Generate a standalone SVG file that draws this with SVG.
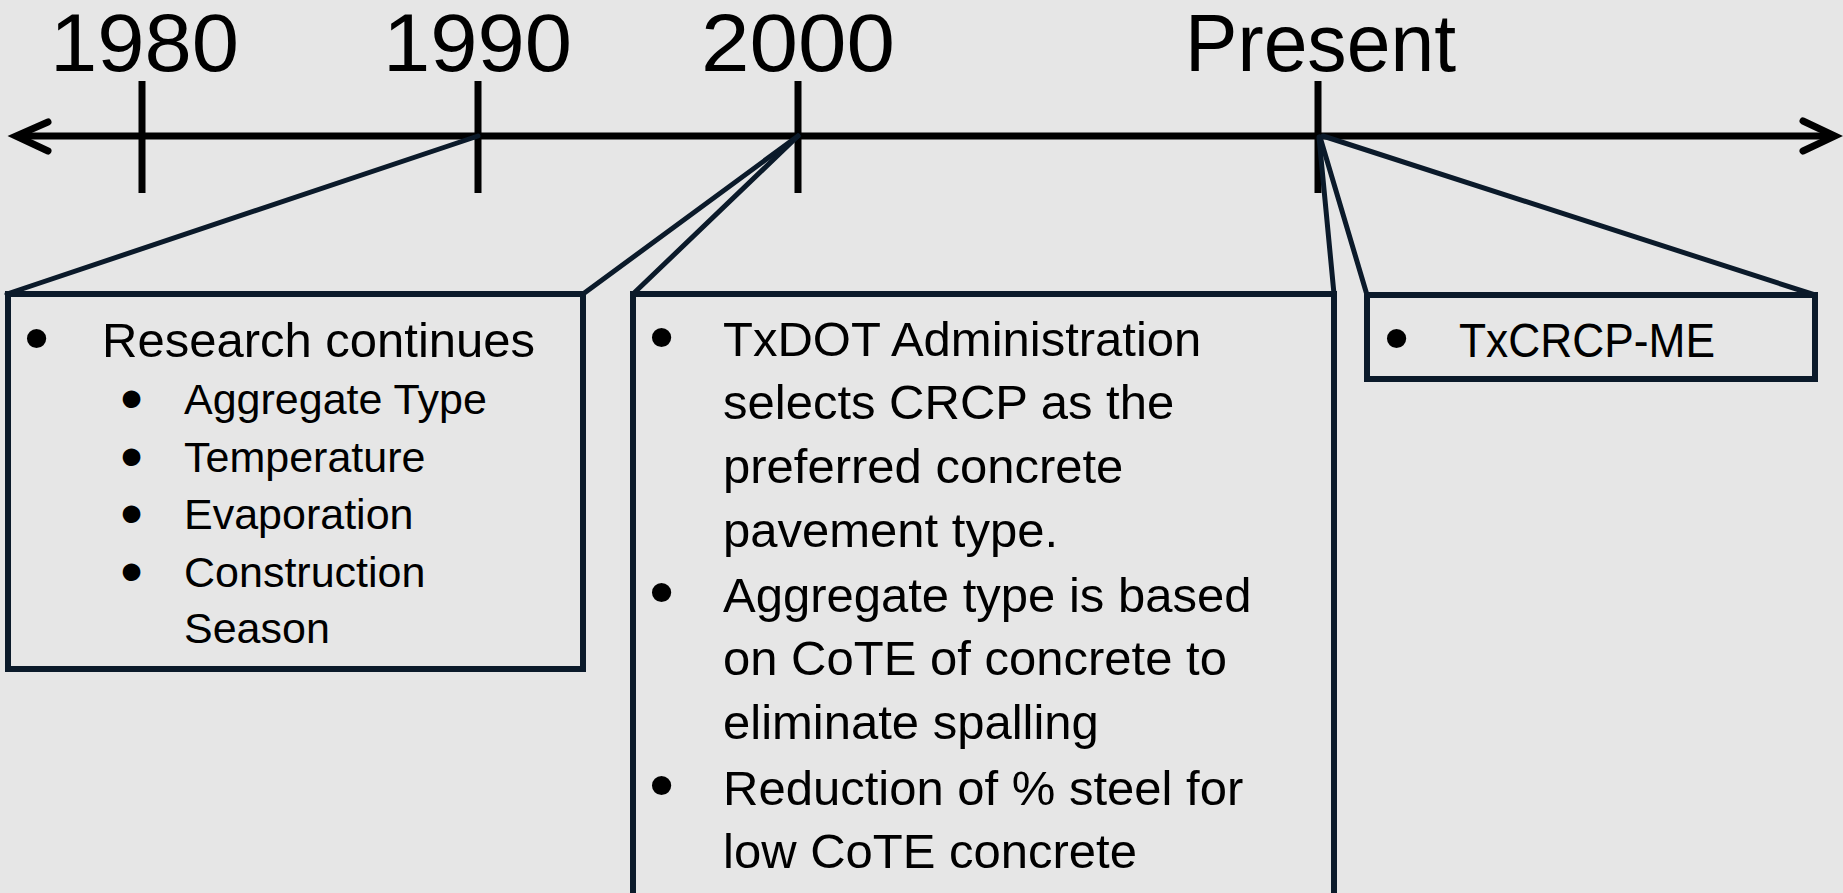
<svg xmlns="http://www.w3.org/2000/svg" width="1843" height="893" viewBox="0 0 1843 893">
<style>
.bg{fill:#e6e6e6}
.axis{stroke:#000;stroke-width:7;fill:none}
.head{stroke:#000;stroke-width:7;fill:none;stroke-linecap:round;stroke-linejoin:miter}
.tick{stroke:#000;stroke-width:7}
.lbl{font-family:"Liberation Sans",Arial,sans-serif;font-size:81px;fill:#000;text-anchor:start}
.con{stroke:#0b1a2a;stroke-width:5;fill:none;stroke-linecap:round}
.box{fill:#e6e6e6;stroke:#0b1a2a;stroke-width:6}
.t{font-family:"Liberation Sans",Arial,sans-serif;font-size:49px;fill:#000}
.s{font-family:"Liberation Sans",Arial,sans-serif;font-size:43px;fill:#000}
.b{font-family:"Liberation Sans",Arial,sans-serif;font-size:49px;fill:#000;stroke:#000;stroke-width:6;stroke-linejoin:round}
.sb{font-family:"Liberation Sans",Arial,sans-serif;font-size:43px;fill:#000;stroke:#000;stroke-width:6;stroke-linejoin:round}
</style>
<rect class="bg" x="0" y="0" width="1843" height="893"/>
<g id="timeline">
<line class="axis" x1="17" y1="136" x2="1833" y2="136"/>
<polyline class="head" points="48,122 16,136 48,151"/>
<polyline class="head" points="1803,121 1835,136 1803,151"/>
<line class="tick" x1="142" y1="81" x2="142" y2="193"/>
<line class="tick" x1="478" y1="81" x2="478" y2="193"/>
<line class="tick" x1="798" y1="81" x2="798" y2="193"/>
<line class="tick" x1="1318" y1="81" x2="1318" y2="193"/>
<text class="lbl" x="50" y="71" textLength="189" lengthAdjust="spacingAndGlyphs">1980</text>
<text class="lbl" x="383" y="71" textLength="189" lengthAdjust="spacingAndGlyphs">1990</text>
<text class="lbl" x="701" y="71" textLength="194" lengthAdjust="spacingAndGlyphs">2000</text>
<text class="lbl" x="1185" y="71" textLength="271" lengthAdjust="spacingAndGlyphs">Present</text>
</g>
<g id="connectors">
<line class="con" x1="478" y1="136" x2="7" y2="294"/>
<line class="con" x1="798" y1="136" x2="583" y2="294"/>
<line class="con" x1="798" y1="136" x2="633" y2="294"/>
<line class="con" x1="1319" y1="137" x2="1334" y2="294"/>
<line class="con" x1="1320" y1="137" x2="1367" y2="295"/>
<line class="con" x1="1323" y1="136" x2="1815" y2="295"/>
</g>
<g id="box1990">
<rect class="box" x="8" y="294" width="575" height="375"/>
<text class="b" x="28" y="354">•</text>
<text class="t" x="102" y="357">Research continues</text>
<text class="sb" x="124" y="413">•</text>
<text class="s" x="184" y="414">Aggregate Type</text>
<text class="sb" x="124" y="471">•</text>
<text class="s" x="184" y="472">Temperature</text>
<text class="sb" x="124" y="528">•</text>
<text class="s" x="184" y="529">Evaporation</text>
<text class="sb" x="124" y="586">•</text>
<text class="s" x="184" y="587">Construction</text>
<text class="s" x="184" y="643">Season</text>
</g>
<g id="box2000">
<rect class="box" x="633" y="294" width="701" height="602"/>
<text class="b" x="653" y="353">•</text>
<text class="t" x="723" y="356">TxDOT Administration</text>
<text class="t" x="723" y="419">selects CRCP as the</text>
<text class="t" x="723" y="483">preferred concrete</text>
<text class="t" x="723" y="547">pavement type.</text>
<text class="b" x="653" y="608">•</text>
<text class="t" x="723" y="612">Aggregate type is based</text>
<text class="t" x="723" y="675">on CoTE of concrete to</text>
<text class="t" x="723" y="739">eliminate spalling</text>
<text class="b" x="653" y="801">•</text>
<text class="t" x="723" y="805">Reduction of % steel for</text>
<text class="t" x="723" y="868">low CoTE concrete</text>
</g>
<g id="boxPresent">
<rect class="box" x="1367" y="295" width="448" height="84"/>
<text class="b" x="1388" y="354">•</text>
<text class="t" x="1459" y="357" textLength="256" lengthAdjust="spacingAndGlyphs">TxCRCP-ME</text>
</g>
</svg>
